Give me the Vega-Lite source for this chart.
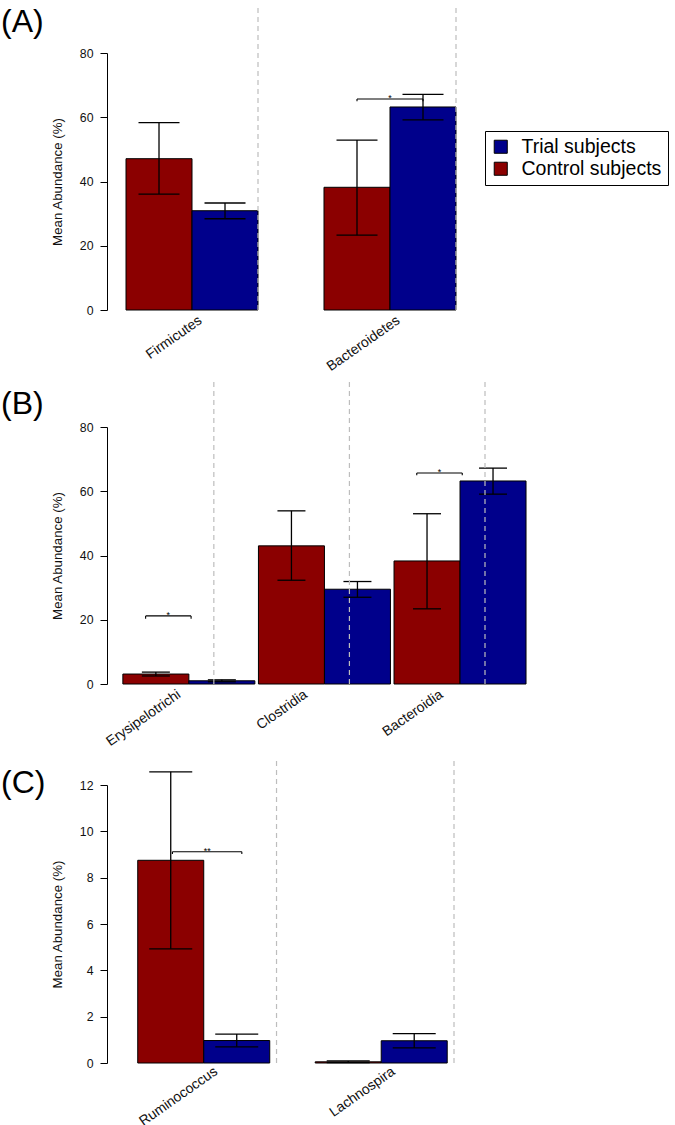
{
  "$schema": "https://vega.github.io/schema/vega-lite/v6.json",
  "padding": {"left": 1, "top": 4, "right": 3, "bottom": 2},
  "datasets": {
    "bars": [
      {"panel": "A", "taxon": "Firmicutes", "group": "Control subjects", "mean": 47.1, "lo": 36.1, "hi": 58.3},
      {"panel": "A", "taxon": "Firmicutes", "group": "Trial subjects", "mean": 30.9, "lo": 28.4, "hi": 33.3},
      {"panel": "A", "taxon": "Bacteroidetes", "group": "Control subjects", "mean": 38.2, "lo": 23.3, "hi": 52.9},
      {"panel": "A", "taxon": "Bacteroidetes", "group": "Trial subjects", "mean": 63.2, "lo": 59.2, "hi": 67.1},
      {"panel": "B", "taxon": "Erysipelotrichi", "group": "Control subjects", "mean": 3.1, "lo": 2.5, "hi": 3.7},
      {"panel": "B", "taxon": "Erysipelotrichi", "group": "Trial subjects", "mean": 1.0, "lo": 0.7, "hi": 1.3},
      {"panel": "B", "taxon": "Clostridia", "group": "Control subjects", "mean": 43.0, "lo": 32.3, "hi": 53.9},
      {"panel": "B", "taxon": "Clostridia", "group": "Trial subjects", "mean": 29.5, "lo": 27.0, "hi": 31.9},
      {"panel": "B", "taxon": "Bacteroidia", "group": "Control subjects", "mean": 38.3, "lo": 23.4, "hi": 53.0},
      {"panel": "B", "taxon": "Bacteroidia", "group": "Trial subjects", "mean": 63.2, "lo": 59.1, "hi": 67.2},
      {"panel": "C", "taxon": "Ruminococcus", "group": "Control subjects", "mean": 8.75, "lo": 4.93, "hi": 12.57},
      {"panel": "C", "taxon": "Ruminococcus", "group": "Trial subjects", "mean": 0.97, "lo": 0.70, "hi": 1.25},
      {"panel": "C", "taxon": "Lachnospira", "group": "Control subjects", "mean": 0.05, "lo": 0.02, "hi": 0.09},
      {"panel": "C", "taxon": "Lachnospira", "group": "Trial subjects", "mean": 0.96, "lo": 0.65, "hi": 1.27}
    ],
    "brackets": [
      {"panel": "A", "taxon": "Bacteroidetes", "level": 65.7, "tip": 65.0, "label": "*"},
      {"panel": "B", "taxon": "Erysipelotrichi", "level": 21.2, "tip": 20.3, "label": "*"},
      {"panel": "B", "taxon": "Bacteroidia", "level": 65.7, "tip": 65.0, "label": "*"},
      {"panel": "C", "taxon": "Ruminococcus", "level": 9.12, "tip": 9.02, "label": "**"}
    ]
  },
  "bounds": "flush",
  "spacing": 117,
  "resolve": {"legend": {"color": "independent"}},
  "vconcat": [
    {
      "width": 349,
      "height": 257,
      "title": {"text": "(A)", "anchor": "start", "frame": "group", "dx": -106, "offset": -59, "baseline": "alphabetic"},
      "layer": [
        {
          "data": {"name": "bars"},
          "transform": [{"filter": "datum.panel === 'A'"}],
          "mark": {"type": "bar", "stroke": "black", "strokeWidth": 1},
          "encoding": {
            "x": {"field": "taxon", "type": "nominal", "scale": {"domain": ["Firmicutes", "Bacteroidetes"], "paddingInner": 0.3333, "paddingOuter": 0.048, "align": 1}, "axis": {"title": null, "labelOffset": 4.5, "labelPadding": 3}},
            "xOffset": {"field": "group", "type": "nominal", "scale": {"domain": ["Control subjects", "Trial subjects"]}},
            "y": {"field": "mean", "type": "quantitative", "scale": {"domain": [0, 80], "nice": false}, "axis": {"title": "Mean Abundance (%)", "values": [0, 20, 40, 60, 80]}},
            "color": {"field": "group", "type": "nominal", "scale": {"domain": ["Control subjects", "Trial subjects"], "range": ["#8B0000", "#00008B"]},
              "legend": {"orient": "none", "legendX": 378, "legendY": 78, "values": ["Trial subjects", "Control subjects"], "title": null, "symbolType": "square", "symbolSize": 170, "symbolStrokeColor": "black", "symbolStrokeWidth": 1, "symbolOpacity": 1, "labelFontSize": 19.5, "labelFont": "Liberation Sans", "labelColor": "black", "labelOffset": 11, "padding": 6, "rowPadding": 1, "strokeColor": "black", "fillColor": "white"}}
          }
        },
        {
          "data": {"name": "bars"},
          "transform": [{"filter": "datum.panel === 'A'"}],
          "mark": {"type": "rule", "color": "black", "strokeWidth": 1.3},
          "encoding": {
            "x": {"field": "taxon", "type": "nominal"},
            "xOffset": {"field": "group", "type": "nominal"},
            "y": {"field": "lo", "type": "quantitative"},
            "y2": {"field": "hi"}
          }
        },
        {
          "data": {"name": "bars"},
          "transform": [{"filter": "datum.panel === 'A'"}],
          "mark": {"type": "tick", "color": "black", "thickness": 1.3, "size": 41, "opacity": 1},
          "encoding": {
            "x": {"field": "taxon", "type": "nominal"},
            "xOffset": {"field": "group", "type": "nominal"},
            "y": {"field": "hi", "type": "quantitative"}
          }
        },
        {
          "data": {"name": "bars"},
          "transform": [{"filter": "datum.panel === 'A'"}],
          "mark": {"type": "tick", "color": "black", "thickness": 1.3, "size": 41, "opacity": 1},
          "encoding": {
            "x": {"field": "taxon", "type": "nominal"},
            "xOffset": {"field": "group", "type": "nominal"},
            "y": {"field": "lo", "type": "quantitative"}
          }
        },
        {
          "data": {"name": "brackets"},
          "transform": [{"filter": "datum.panel === 'A'"}],
          "mark": {"type": "rule", "color": "black", "strokeWidth": 1.1},
          "encoding": {
            "x": {"field": "taxon", "type": "nominal", "bandPosition": 0.25},
            "x2": {"field": "taxon", "bandPosition": 0.75},
            "y": {"field": "level", "type": "quantitative"}
          }
        },
        {
          "data": {"name": "brackets"},
          "transform": [{"filter": "datum.panel === 'A'"}],
          "mark": {"type": "rule", "color": "black", "strokeWidth": 1.1},
          "encoding": {
            "x": {"field": "taxon", "type": "nominal", "bandPosition": 0.25},
            "y": {"field": "level", "type": "quantitative"},
            "y2": {"field": "tip"}
          }
        },
        {
          "data": {"name": "brackets"},
          "transform": [{"filter": "datum.panel === 'A'"}],
          "mark": {"type": "rule", "color": "black", "strokeWidth": 1.1},
          "encoding": {
            "x": {"field": "taxon", "type": "nominal", "bandPosition": 0.75},
            "y": {"field": "level", "type": "quantitative"},
            "y2": {"field": "tip"}
          }
        },
        {
          "data": {"name": "brackets"},
          "transform": [{"filter": "datum.panel === 'A'"}],
          "mark": {"type": "text", "fontSize": 9, "baseline": "alphabetic", "dy": 2, "color": "black"},
          "encoding": {
            "x": {"field": "taxon", "type": "nominal"},
            "y": {"field": "level", "type": "quantitative"},
            "text": {"field": "label"}
          }
        },
        {
          "data": {"name": "bars"},
          "transform": [{"filter": "datum.panel === 'A' && datum.group === 'Control subjects'"}],
          "mark": {"type": "rule", "color": "#bdbdbd", "strokeDash": [5, 4], "strokeWidth": 1.2},
          "encoding": {
            "x": {"field": "taxon", "type": "nominal", "bandPosition": 1},
            "y": {"datum": 0},
            "y2": {"datum": 94.9}
          }
        }
      ]
    },
    {
      "bounds": "flush",
      "spacing": 101,
      "resolve": {"legend": {"color": "independent"}},
      "vconcat": [
        {
          "width": 378,
          "height": 257,
          "title": {"text": "(B)", "anchor": "start", "frame": "group", "dx": -106, "offset": -68, "baseline": "alphabetic"},
          "layer": [
            {
              "data": {"name": "bars"},
              "transform": [{"filter": "datum.panel === 'B'"}],
              "mark": {"type": "bar", "stroke": "black", "strokeWidth": 1},
              "encoding": {
                "x": {"field": "taxon", "type": "nominal", "scale": {"domain": ["Erysipelotrichi", "Clostridia", "Bacteroidia"], "paddingInner": 0.329, "paddingOuter": 0.0585, "align": 1},
                  "axis": {"title": null, "labelPadding": 3, "labelOffset": {"condition": {"test": "datum.value !== 'Erysipelotrichi'", "value": -2}, "value": 7}}},
                "xOffset": {"field": "group", "type": "nominal", "scale": {"domain": ["Control subjects", "Trial subjects"]}},
                "y": {"field": "mean", "type": "quantitative", "scale": {"domain": [0, 80], "nice": false}, "axis": {"title": "Mean Abundance (%)", "values": [0, 20, 40, 60, 80]}},
                "color": {"field": "group", "type": "nominal", "legend": null}
              }
            },
            {
              "data": {"name": "bars"},
              "transform": [{"filter": "datum.panel === 'B'"}],
              "mark": {"type": "rule", "color": "black", "strokeWidth": 1.3},
              "encoding": {
                "x": {"field": "taxon", "type": "nominal"},
                "xOffset": {"field": "group", "type": "nominal"},
                "y": {"field": "lo", "type": "quantitative"},
                "y2": {"field": "hi"}
              }
            },
            {
              "data": {"name": "bars"},
              "transform": [{"filter": "datum.panel === 'B'"}],
              "mark": {"type": "tick", "color": "black", "thickness": 1.3, "size": 28, "opacity": 1},
              "encoding": {
                "x": {"field": "taxon", "type": "nominal"},
                "xOffset": {"field": "group", "type": "nominal"},
                "y": {"field": "hi", "type": "quantitative"}
              }
            },
            {
              "data": {"name": "bars"},
              "transform": [{"filter": "datum.panel === 'B'"}],
              "mark": {"type": "tick", "color": "black", "thickness": 1.3, "size": 28, "opacity": 1},
              "encoding": {
                "x": {"field": "taxon", "type": "nominal"},
                "xOffset": {"field": "group", "type": "nominal"},
                "y": {"field": "lo", "type": "quantitative"}
              }
            },
            {
              "data": {"name": "brackets"},
              "transform": [{"filter": "datum.panel === 'B'"}],
              "mark": {"type": "rule", "color": "black", "strokeWidth": 1.1},
              "encoding": {
                "x": {"field": "taxon", "type": "nominal", "bandPosition": 0.25},
                "x2": {"field": "taxon", "bandPosition": 0.75},
                "y": {"field": "level", "type": "quantitative"}
              }
            },
            {
              "data": {"name": "brackets"},
              "transform": [{"filter": "datum.panel === 'B'"}],
              "mark": {"type": "rule", "color": "black", "strokeWidth": 1.1},
              "encoding": {
                "x": {"field": "taxon", "type": "nominal", "bandPosition": 0.25},
                "y": {"field": "level", "type": "quantitative"},
                "y2": {"field": "tip"}
              }
            },
            {
              "data": {"name": "brackets"},
              "transform": [{"filter": "datum.panel === 'B'"}],
              "mark": {"type": "rule", "color": "black", "strokeWidth": 1.1},
              "encoding": {
                "x": {"field": "taxon", "type": "nominal", "bandPosition": 0.75},
                "y": {"field": "level", "type": "quantitative"},
                "y2": {"field": "tip"}
              }
            },
            {
              "data": {"name": "brackets"},
              "transform": [{"filter": "datum.panel === 'B'"}],
              "mark": {"type": "text", "fontSize": 9, "baseline": "alphabetic", "dy": 2, "color": "black"},
              "encoding": {
                "x": {"field": "taxon", "type": "nominal"},
                "y": {"field": "level", "type": "quantitative"},
                "text": {"field": "label"}
              }
            },
            {
              "data": {"name": "bars"},
              "transform": [{"filter": "datum.panel === 'B' && datum.group === 'Control subjects'"}],
              "mark": {"type": "rule", "color": "#bdbdbd", "strokeDash": [5, 4], "strokeWidth": 1.2},
              "encoding": {
                "x": {"field": "taxon", "type": "nominal", "bandPosition": 1},
                "y": {"datum": 0},
                "y2": {"datum": 95}
              }
            }
          ]
        },
        {
          "width": 347,
          "height": 278,
          "title": {"text": "(C)", "anchor": "start", "frame": "group", "dx": -106, "offset": -66, "baseline": "alphabetic"},
          "layer": [
            {
              "data": {"name": "bars"},
              "transform": [{"filter": "datum.panel === 'C'"}],
              "mark": {"type": "bar", "stroke": "black", "strokeWidth": 1},
              "encoding": {
                "x": {"field": "taxon", "type": "nominal", "scale": {"domain": ["Ruminococcus", "Lachnospira"], "paddingInner": 0.218, "paddingOuter": 0.0866, "align": 1}, "axis": {"title": null, "labelOffset": 5, "labelPadding": 1}},
                "xOffset": {"field": "group", "type": "nominal", "scale": {"domain": ["Control subjects", "Trial subjects"]}},
                "y": {"field": "mean", "type": "quantitative", "scale": {"domain": [0, 12], "nice": false}, "axis": {"title": "Mean Abundance (%)", "values": [0, 2, 4, 6, 8, 10, 12]}},
                "color": {"field": "group", "type": "nominal", "legend": null}
              }
            },
            {
              "data": {"name": "bars"},
              "transform": [{"filter": "datum.panel === 'C'"}],
              "mark": {"type": "rule", "color": "black", "strokeWidth": 1.3},
              "encoding": {
                "x": {"field": "taxon", "type": "nominal"},
                "xOffset": {"field": "group", "type": "nominal"},
                "y": {"field": "lo", "type": "quantitative"},
                "y2": {"field": "hi"}
              }
            },
            {
              "data": {"name": "bars"},
              "transform": [{"filter": "datum.panel === 'C'"}],
              "mark": {"type": "tick", "color": "black", "thickness": 1.3, "size": 43, "opacity": 1},
              "encoding": {
                "x": {"field": "taxon", "type": "nominal"},
                "xOffset": {"field": "group", "type": "nominal"},
                "y": {"field": "hi", "type": "quantitative"}
              }
            },
            {
              "data": {"name": "bars"},
              "transform": [{"filter": "datum.panel === 'C'"}],
              "mark": {"type": "tick", "color": "black", "thickness": 1.3, "size": 43, "opacity": 1},
              "encoding": {
                "x": {"field": "taxon", "type": "nominal"},
                "xOffset": {"field": "group", "type": "nominal"},
                "y": {"field": "lo", "type": "quantitative"}
              }
            },
            {
              "data": {"name": "brackets"},
              "transform": [{"filter": "datum.panel === 'C'"}],
              "mark": {"type": "rule", "color": "black", "strokeWidth": 1.1},
              "encoding": {
                "x": {"field": "taxon", "type": "nominal", "bandPosition": 0.25},
                "x2": {"field": "taxon", "bandPosition": 0.75},
                "y": {"field": "level", "type": "quantitative"}
              }
            },
            {
              "data": {"name": "brackets"},
              "transform": [{"filter": "datum.panel === 'C'"}],
              "mark": {"type": "rule", "color": "black", "strokeWidth": 1.1},
              "encoding": {
                "x": {"field": "taxon", "type": "nominal", "bandPosition": 0.25},
                "y": {"field": "level", "type": "quantitative"},
                "y2": {"field": "tip"}
              }
            },
            {
              "data": {"name": "brackets"},
              "transform": [{"filter": "datum.panel === 'C'"}],
              "mark": {"type": "rule", "color": "black", "strokeWidth": 1.1},
              "encoding": {
                "x": {"field": "taxon", "type": "nominal", "bandPosition": 0.75},
                "y": {"field": "level", "type": "quantitative"},
                "y2": {"field": "tip"}
              }
            },
            {
              "data": {"name": "brackets"},
              "transform": [{"filter": "datum.panel === 'C'"}],
              "mark": {"type": "text", "fontSize": 9, "baseline": "alphabetic", "dy": 2, "color": "black"},
              "encoding": {
                "x": {"field": "taxon", "type": "nominal"},
                "y": {"field": "level", "type": "quantitative"},
                "text": {"field": "label"}
              }
            },
            {
              "data": {"name": "bars"},
              "transform": [{"filter": "datum.panel === 'C' && datum.group === 'Control subjects'"}],
              "mark": {"type": "rule", "color": "#bdbdbd", "strokeDash": [5, 4], "strokeWidth": 1.2},
              "encoding": {
                "x": {"field": "taxon", "type": "nominal", "bandPosition": 1},
                "y": {"datum": 0},
                "y2": {"datum": 13.1}
              }
            }
          ]
        }
      ]
    }
  ],
  "config": {
    "font": "Liberation Sans",
    "view": {"stroke": null},
    "title": {"fontSize": 32, "fontWeight": "normal", "font": "Liberation Sans", "color": "black"},
    "axisY": {"grid": false, "domainColor": "black", "domainWidth": 1, "tickColor": "black", "tickWidth": 1, "tickSize": 7, "labelPadding": 7, "labelAngle": 0, "labelFontSize": 12.3, "labelColor": "#111", "titleFontSize": 13.3, "titleFontWeight": "normal", "titleColor": "#111", "titlePadding": 15, "labelFont": "Liberation Sans", "titleFont": "Liberation Sans"},
    "axisX": {"domain": false, "ticks": false, "tickSize": 0, "grid": false, "labelAngle": -35, "labelAlign": "right", "labelBaseline": "top", "labelFontSize": 14, "labelColor": "#111", "labelFont": "Liberation Sans"}
  }
}
